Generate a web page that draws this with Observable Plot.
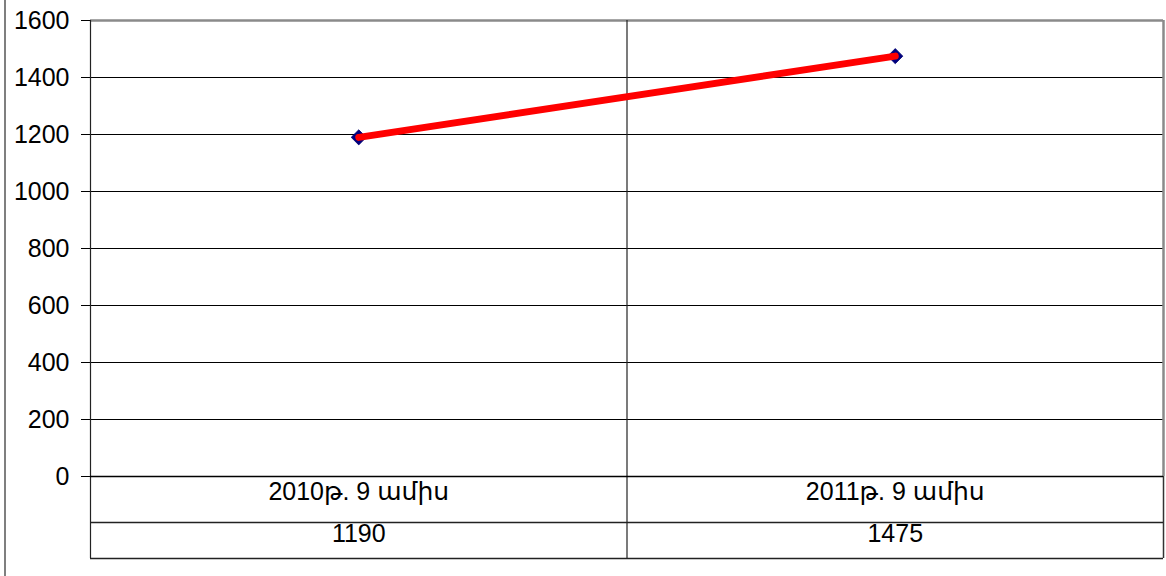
<!DOCTYPE html>
<html>
<head>
<meta charset="utf-8">
<script src="https://cdn.jsdelivr.net/npm/d3@7"></script>
<script src="https://cdn.jsdelivr.net/npm/@observablehq/plot@0.6"></script>
<style>
  html, body { margin: 0; padding: 0; background: #fff; }
  #chart svg { display: block; overflow: visible; }
</style>
</head>
<body>
<div id="chart"></div>
<script>
const categories = ["2010թ. 9 ամիս", "2011թ. 9 ամիս"];
const values = [1190, 1475];
const yTicks = [0, 200, 400, 600, 800, 1000, 1200, 1400, 1600];

const data = categories.map((c, i) => ({category: c, idx: i + 0.5, value: values[i]}));
const bounds = d3.range(categories.length + 1);
const font = "'Liberation Sans', Arial, 'DejaVu Sans', sans-serif";

const chart = Plot.plot({
  width: 1166,
  height: 576,
  marginLeft: 90,
  marginRight: 3,
  marginTop: 20,
  marginBottom: 100,
  style: {fontFamily: font, fontSize: "25px", color: "#000", background: "#fff", overflow: "visible"},
  x: {type: "linear", domain: [0, categories.length], axis: null},
  y: {domain: [0, 1600], ticks: yTicks, tickSize: 9, tickPadding: 12, label: null, tickFormat: d => String(d)},
  marks: [
    // horizontal gridlines
    Plot.ruleY(yTicks.filter(d => d > 0 && d < 1600), {stroke: "#000", strokeWidth: 1}),
    // top border (gray)
    Plot.ruleY([1600], {stroke: "#8a8a8a", strokeWidth: 2.5}),
    // vertical separators extending through the data table
    Plot.ruleX(bounds.slice(0, -1), {stroke: "#222", strokeWidth: 1.2, insetBottom: -82}),
    Plot.ruleX([categories.length], {stroke: "#8a8a8a", strokeWidth: 2.5, insetBottom: 0}),
    Plot.ruleX([categories.length], {stroke: "#333", strokeWidth: 1.5, insetTop: 456, insetBottom: -82}),
    // baseline
    Plot.ruleY([0], {stroke: "#000", strokeWidth: 1.5}),
    // data table rows
    Plot.ruleY([0], {stroke: "#222", strokeWidth: 1.3, dy: 46}),
    Plot.ruleY([0], {stroke: "#222", strokeWidth: 1.5, dy: 82}),
    // outer left border of chart area
    Plot.ruleX([0], {stroke: "#555", strokeWidth: 1.5, dx: -85.5, insetTop: -20, insetBottom: -100}),
    // markers then line
    Plot.dot(data, {x: "idx", y: "value", symbol: "diamond2", r: 6.8, fill: "#000080", stroke: "#000070", strokeWidth: 0.8}),
    Plot.line(data, {x: "idx", y: "value", stroke: "#ff0000", strokeWidth: 7}),
    // table labels
    Plot.text(data, {x: "idx", text: "category", frameAnchor: "bottom", dy: 23, fontSize: 25, fill: "#000"}),
    Plot.text(data, {x: "idx", text: d => String(d.value), frameAnchor: "bottom", dy: 65, fontSize: 25, fill: "#000"})
  ]
});
document.getElementById("chart").appendChild(chart);
</script>
</body>
</html>
